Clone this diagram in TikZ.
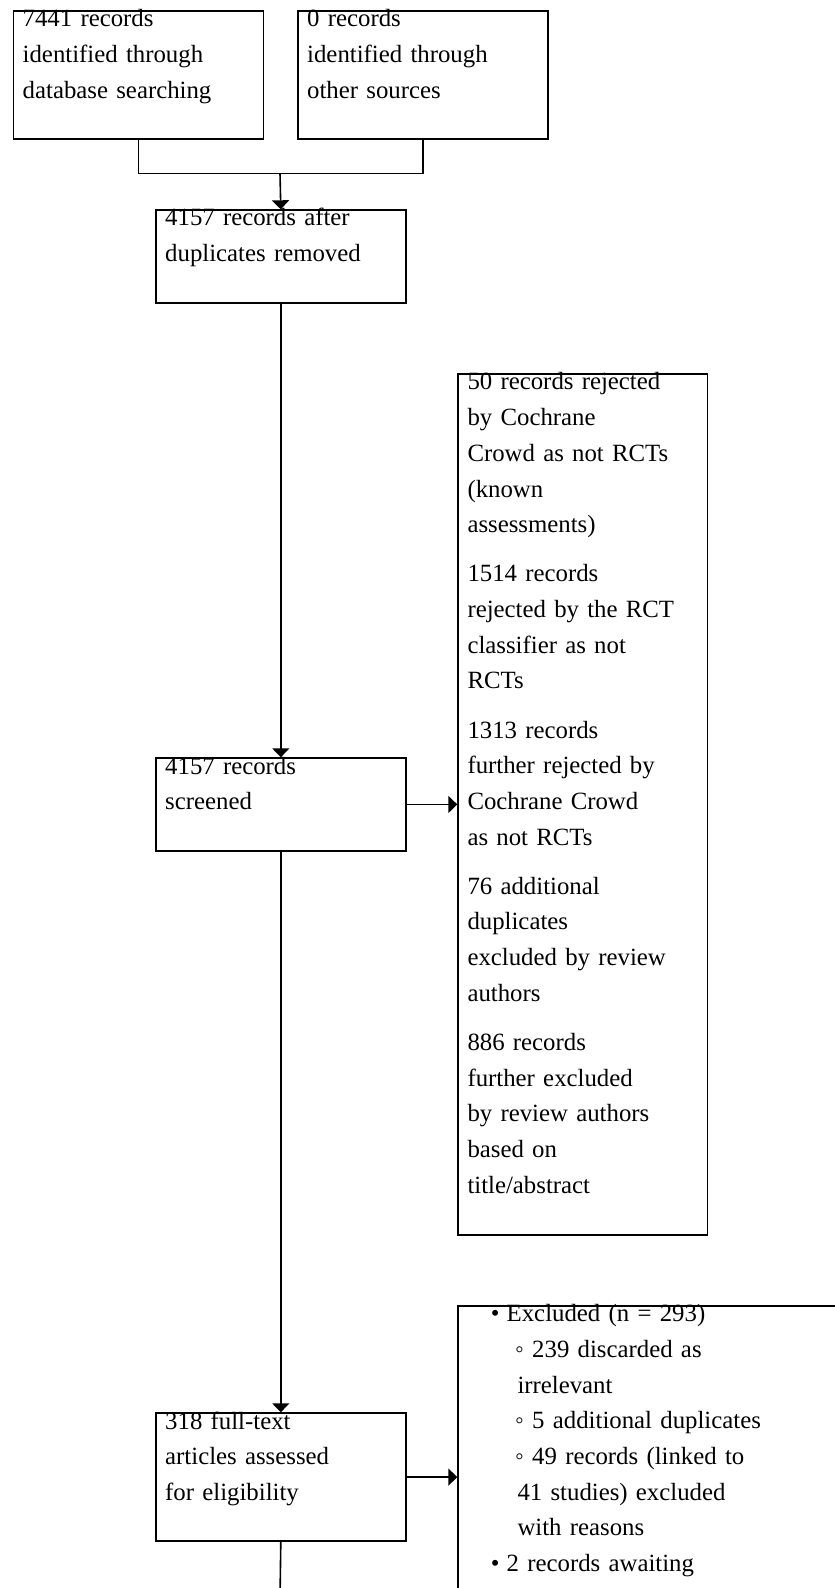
\documentclass[tikz,border=0pt]{standalone}
\usepackage{fontspec}
\setmainfont{Liberation Serif}
\usetikzlibrary{arrows.meta}
\setlength{\parindent}{0pt}
\begin{document}
\begin{tikzpicture}[x=1pt,y=-1pt,
  box/.style={draw, line width=1.6pt, inner sep=0pt, anchor=north west, minimum width=250pt},
  txt/.style={anchor=north west, inner sep=0pt, text width=240pt, align=left, font=\fontsize{24.8}{35.7}\selectfont},
  ln/.style={line width=1.6pt},
  arr/.style={line width=1.6pt, -{Triangle[width=17pt,length=9pt]}}]
\useasboundingbox (0,0) rectangle (835,1588);
% boxes
\node[box, minimum height=128pt] (b1) at (12.5,10) {};
\node[box, minimum height=128pt] (b2) at (297,10) {};
\node[box, minimum height=92.7pt] (b3) at (155,209.3) {};
\node[box, minimum height=92.7pt] (b4) at (155,757.3) {};
\node[box, minimum width=249.5pt, minimum height=860.7pt] (b5) at (457.3,373.3) {};
\node[box, minimum height=128pt] (b6) at (155,1412.3) {};
\node[box, minimum width=500pt, minimum height=400pt] (b7) at (457.3,1305) {};
% texts
\node[txt] (t1) at ([xshift=10pt,yshift=8.5pt]b1.north west) {\strut 7441 records\\identified through\\database searching};
\node[txt] (t2) at ([xshift=10pt,yshift=8.5pt]b2.north west) {\strut 0 records\\identified through\\other sources};
\node[txt] (t3) at ([xshift=10pt,yshift=8.5pt]b3.north west) {\strut 4157 records after\\duplicates removed};
\node[txt] (t4) at ([xshift=10pt,yshift=8.5pt]b4.north west) {\strut 4157 records\\screened};
\node[txt] (t5) at ([xshift=10pt,yshift=8.5pt]b5.north west) {\strut 50 records rejected\\by Cochrane\\Crowd as not RCTs\\(known\\assessments)\\[13.4pt]
1514 records\\rejected by the RCT\\classifier as not\\RCTs\\[13.4pt]
1313 records\\further rejected by\\Cochrane Crowd\\as not RCTs\\[13.4pt]
76 additional\\duplicates\\excluded by review\\authors\\[13.4pt]
886 records\\further excluded\\by review authors\\based on\\title/abstract};
\node[txt] (t6) at ([xshift=10pt,yshift=8.5pt]b6.north west) {\strut 318 full-text\\articles assessed\\for eligibility};
\node[txt, text width=360pt] (t7) at ([xshift=10pt,yshift=8.5pt]b7.north west) {\strut\hspace*{22.7pt}\makebox[10pt]{•}\hspace*{6.5pt}Excluded (n = 293)\\
\hspace*{47.7pt}◦ 239 discarded as\\
\hspace*{50pt}irrelevant\\
\hspace*{47.7pt}◦ 5 additional duplicates\\
\hspace*{47.7pt}◦ 49 records (linked to\\
\hspace*{50pt}41 studies) excluded\\
\hspace*{50pt}with reasons\\
\hspace*{22.7pt}\makebox[10pt]{•}\hspace*{6.5pt}2 records awaiting};
% connectors
\coordinate (j) at (280,173.3);
\coordinate (end) at (280,1600);
\draw[ln] (b1.south) -- (b1.south |- j) -- (b2.south |- j) -- (b2.south);
\draw[arr] (j) -- (b3.north);
\draw[arr] (b3.south) -- (b4.north);
\draw[arr] (b4.east) -- (b4.east -| b5.west);
\draw[arr] (b4.south) -- (b6.north);
\draw[arr] (b6.east) -- (b6.east -| b7.west);
\draw[ln] (b6.south) -- (end);
\end{tikzpicture}
\end{document}
